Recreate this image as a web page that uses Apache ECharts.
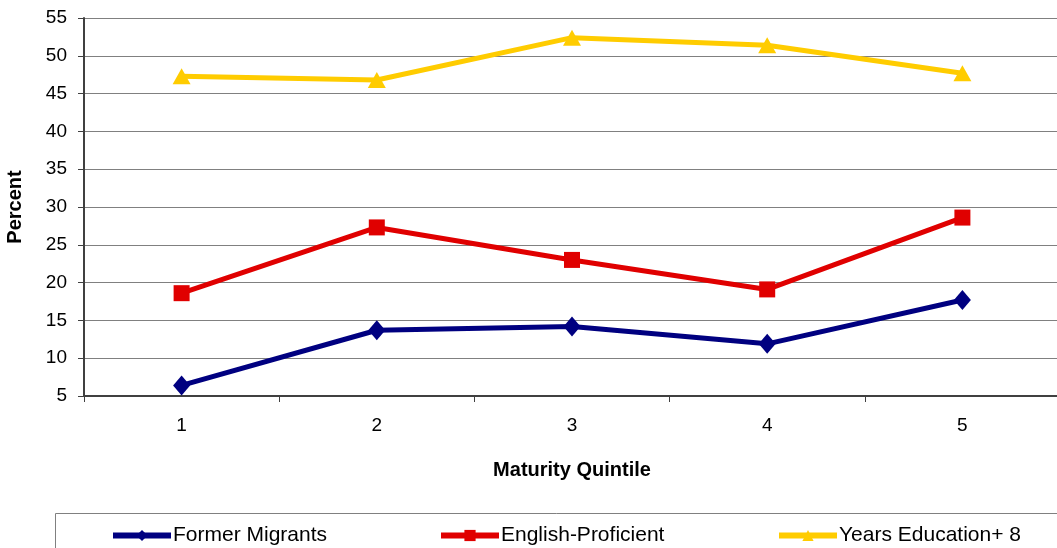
<!DOCTYPE html>
<html>
<head>
<meta charset="utf-8">
<title>Maturity Quintile</title>
<script src="https://cdn.jsdelivr.net/npm/echarts@6/dist/echarts.min.js"></script>
<style>
  html, body { margin: 0; padding: 0; background: #ffffff; }
  #chart { width: 1057px; height: 548px; }
</style>
</head>
<body>
<div id="chart"></div>
<script>
// Quintile categories along the x axis
const quintiles = ['1', '2', '3', '4', '5'];

// Percent of each group, by maturity quintile
const formerMigrants = [6.4, 13.7, 14.2, 11.9, 17.7];
const englishProficient = [18.6, 27.3, 23.0, 19.1, 28.6];
const yearsEducation8 = [47.3, 46.8, 52.4, 51.4, 47.7];

// Series names shown in the legend
const seriesNames = ['Former Migrants', 'English-Proficient', 'Years Education+ 8'];

const FONT = 'Liberation Sans, Arial, sans-serif';
const colors = ['#000080', '#E00000', '#FFCC00'];
const symbols = ['diamond', 'rect', 'triangle'];
const symbolSizes = [[17, 20], 16, [18, 16]];
const values = [formerMigrants, englishProficient, yearsEducation8];

const chart = echarts.init(document.getElementById('chart'), null, { renderer: 'canvas' });

// one legend block per series, spaced across the framed strip at the bottom
const legendLefts = [110, 438, 776];
const legends = seriesNames.map((name, i) => ({
  data: [name],
  left: legendLefts[i],
  top: 525,
  padding: 0,
  itemWidth: 58,
  itemHeight: 14,
  itemGap: 0,
  lineStyle: { width: 6 },
  textStyle: { fontFamily: FONT, fontSize: 21, color: '#000', padding: [0, 0, 0, -3] }
}));

chart.setOption({
  animation: false,
  backgroundColor: '#ffffff',
  color: colors,
  graphic: [{
    type: 'rect',
    shape: { x: 55.5, y: 513.5, width: 1100, height: 100 },
    style: { fill: 'none', stroke: '#808080', lineWidth: 1 },
    z: 0
  }],
  legend: legends,
  grid: { left: 84, right: -3, top: 18, bottom: 152, containLabel: false, outerBoundsMode: 'none' },
  xAxis: {
    type: 'category',
    data: quintiles,
    boundaryGap: true,
    name: 'Maturity Quintile',
    nameLocation: 'middle',
    nameGap: 64,
    nameTextStyle: { fontFamily: FONT, fontSize: 20, fontWeight: 'bold', color: '#000' },
    axisLine: { show: true, lineStyle: { color: '#404040', width: 2 } },
    axisTick: { show: true, interval: 0, length: 6, lineStyle: { color: '#404040', width: 1 } },
    axisLabel: { fontFamily: FONT, fontSize: 19, color: '#000', margin: 20 },
    splitLine: { show: false }
  },
  yAxis: {
    type: 'value',
    min: 5,
    max: 55,
    interval: 5,
    name: 'Percent',
    nameLocation: 'middle',
    nameRotate: 90,
    nameGap: 59,
    nameTextStyle: { fontFamily: FONT, fontSize: 20, fontWeight: 'bold', color: '#000' },
    axisLine: { show: true, lineStyle: { color: '#404040', width: 2 } },
    axisTick: { show: true, length: 6, lineStyle: { color: '#404040', width: 1 } },
    axisLabel: { fontFamily: FONT, fontSize: 19, color: '#000', margin: 17 },
    splitLine: { show: true, lineStyle: { color: '#808080', width: 1 } }
  },
  series: seriesNames.map((name, i) => ({
    name: name,
    type: 'line',
    data: values[i],
    symbol: symbols[i],
    symbolSize: symbolSizes[i],
    showSymbol: true,
    lineStyle: { color: colors[i], width: 5 },
    itemStyle: { color: colors[i], borderWidth: 0 },
    z: 3 + i
  }))
});
</script>
</body>
</html>
